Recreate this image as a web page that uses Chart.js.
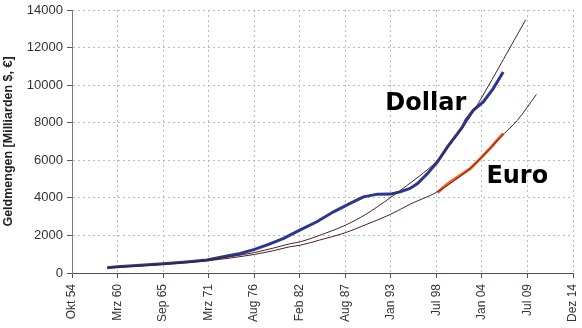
<!DOCTYPE html>
<html>
<head>
<meta charset="utf-8">
<script src="https://cdn.jsdelivr.net/npm/chart.js@4/dist/chart.umd.min.js"></script>
<style>
  body { margin: 0; background: #fff; }
  #wrap { width: 582px; height: 328px; }
</style>
</head>
<body>
<div id="wrap"><canvas id="moneyChart" width="582" height="328"></canvas></div>
<script>
// Achsenbeschriftung (Datumsachse, Schritt 2000 Tage)
const tickLabels = ['Okt 54', 'Mrz 60', 'Sep 65', 'Mrz 71', 'Aug 76', 'Feb 82',
                    'Aug 87', 'Jan 93', 'Jul 98', 'Jan 04', 'Jul 09', 'Dez 14'];
const X_START = 1954.76;
const X_STEP = 2000 / 365.25;

// Geldmenge USA (M3), Milliarden $
const dollarYears  = [1959.0, 1960.2, 1963.0, 1965.7, 1968.5, 1971.0, 1973.4, 1975.0, 1976.7, 1978.4,
                      1980.2, 1982.2, 1984.2, 1986.2, 1988.2, 1989.8, 1991.5, 1993.0, 1994.2, 1995.4,
                      1996.3, 1997.5, 1998.7, 1999.9, 2001.1, 2001.7, 2002.1, 2003.0, 2004.2, 2005.4, 2006.6];
const dollarValues = [285, 335, 410, 494, 590, 690, 900, 1040, 1260, 1520,
                      1844, 2300, 2726, 3258, 3704, 4055, 4198, 4200, 4320, 4500,
                      4766, 5298, 5914, 6711, 7424, 7780, 8130, 8662, 9103, 9815, 10700];

// Geldmenge Euroraum (M3), Milliarden €
const euroYears  = [1998.7, 1999.5, 2000.25, 2001.45, 2002.66, 2003.86, 2005.06, 2006.6];
const euroValues = [4280, 4600, 4852, 5208, 5563, 6095, 6650, 7424];

// Trendkurven
const dollarFitYears  = [1959.0, 1962.0, 1965.3, 1968.0, 1971.0, 1974.0, 1976.7, 1979.0, 1981.0, 1982.2, 1984.5,
                         1987.6, 1990.0, 1993.0, 1995.0, 1996.5, 1998.6, 2000.5, 2002.3, 2003.9, 2006.6, 2009.3];
const dollarFitValues = [282, 355, 455, 555, 690, 880, 1090, 1330, 1560, 1660, 2000,
                         2540, 3100, 4000, 4650, 5150, 5950, 7000, 8100, 9250, 11350, 13480];
const euroFitYears  = [1959.0, 1962.0, 1965.3, 1968.0, 1971.0, 1974.0, 1976.7, 1979.0, 1981.0, 1982.2, 1984.5,
                       1987.6, 1990.0, 1993.0, 1995.5, 1998.6, 2000.5, 2002.3, 2004.0, 2006.3, 2008.3, 2010.6];
const euroFitValues = [282, 350, 440, 530, 650, 810, 990, 1190, 1400, 1480, 1750,
                       2140, 2560, 3110, 3680, 4300, 4850, 5450, 6150, 7240, 8130, 9510];

function toPoints(xs, ys) {
    return xs.map((x, i) => ({ x: x, y: ys[i] }));
}

const tickValues = tickLabels.map((_, i) => X_START + i * X_STEP);

// Beschriftung "Dollar" / "Euro" im Diagramm
const seriesLabels = {
    id: 'seriesLabels',
    afterDatasetsDraw(chart) {
        const ctx = chart.ctx;
        const xs = chart.scales.x, ys = chart.scales.y;
        ctx.save();
        ctx.font = 'bold 24px "DejaVu Sans"';
        ctx.fillStyle = '#000';
        ctx.textBaseline = 'alphabetic';
        ctx.fillText('Dollar', xs.getPixelForValue(1992.43), ys.getPixelForValue(8662));
        ctx.fillText('Euro', xs.getPixelForValue(2004.58), ys.getPixelForValue(4783));
        ctx.restore();
    }
};

const ctx = document.getElementById('moneyChart').getContext('2d');
const chart = new Chart(ctx, {
    type: 'line',
    data: {
        datasets: [{
            label: 'Trend Dollar',
            data: toPoints(dollarFitYears, dollarFitValues),
            borderColor: '#4a2028',
            borderWidth: 1,
            pointRadius: 0,
            cubicInterpolationMode: 'monotone',
            order: 0
        }, {
            label: 'Trend Euro',
            data: toPoints(euroFitYears, euroFitValues),
            borderColor: '#4a2028',
            borderWidth: 1,
            pointRadius: 0,
            cubicInterpolationMode: 'monotone',
            order: 0
        }, {
            label: 'Dollar',
            data: toPoints(dollarYears, dollarValues),
            borderColor: '#2a3690',
            borderWidth: 3,
            pointRadius: 0,
            tension: 0,
            order: 1
        }, {
            label: 'Euro',
            data: toPoints(euroYears, euroValues),
            borderColor: '#ff5a1e',
            borderWidth: 3,
            pointRadius: 0,
            tension: 0,
            order: 1
        }]
    },
    options: {
        responsive: false,
        animation: false,
        layout: { padding: { left: 0, right: 9, top: 10, bottom: 0 } },
        plugins: {
            legend: { display: false },
            tooltip: { enabled: false }
        },
        scales: {
            x: {
                type: 'linear',
                min: tickValues[0],
                max: tickValues[tickValues.length - 1],
                afterBuildTicks: function (scale) {
                    scale.ticks = tickValues.map(v => ({ value: v }));
                },
                afterFit: function (scale) {
                    scale.height = 55;
                    scale.paddingLeft = 0;
                    scale.paddingRight = 0;
                },
                grid: {
                    color: '#b8b8cf',
                    tickBorderDash: [],
                    tickColor: '#604848',
                    tickLength: 5
                },
                border: { color: '#604848', width: 1, dash: [2, 3] },
                ticks: {
                    autoSkip: false,
                    minRotation: 90,
                    maxRotation: 90,
                    padding: 6,
                    color: '#333',
                    font: { family: 'Liberation Sans, Arial', size: 12 },
                    callback: function (value, index) {
                        return tickLabels[index];
                    }
                }
            },
            y: {
                min: 0,
                max: 14000,
                afterFit: function (scale) {
                    scale.width = 72;
                    scale.paddingTop = 0;
                    scale.paddingBottom = 0;
                },
                grid: {
                    color: '#b8b8cf',
                    tickBorderDash: [],
                    tickColor: '#55557a',
                    tickLength: 5
                },
                border: { color: '#7878a8', width: 1, dash: [2, 3] },
                ticks: {
                    stepSize: 2000,
                    padding: 4,
                    color: '#333',
                    font: { family: 'Liberation Sans, Arial', size: 13 },
                    callback: function (value) { return value; }
                },
                title: {
                    display: true,
                    text: 'Geldmengen [Milliarden $, €]',
                    color: '#222',
                    font: { family: 'Liberation Sans, Arial', size: 12.5, weight: 'bold' },
                    padding: { top: 1, bottom: 0 }
                }
            }
        }
    },
    plugins: [seriesLabels]
});
</script>
</body>
</html>
